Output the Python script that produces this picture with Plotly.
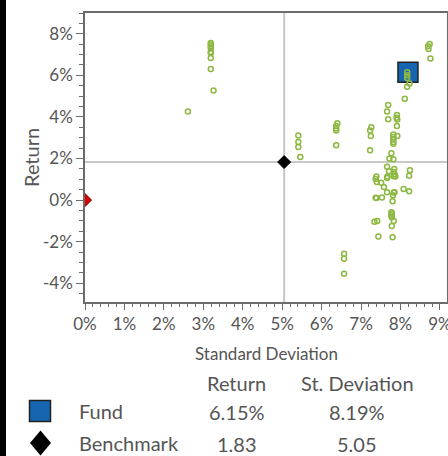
import plotly.graph_objects as go

W, H = 448, 456

# Peer universe points (std dev %, return %)
peer_sd = [3.19, 3.19, 3.19, 3.19, 3.19, 3.19, 3.19, 3.19,
           3.26, 2.61,
           5.41, 5.41, 5.41, 5.46,
           8.74, 8.70, 8.71, 8.76,
           8.17, 8.17, 8.17, 8.23, 8.17,
           8.11, 7.69, 7.66, 7.69,
           7.91, 7.90, 7.92, 7.91, 7.92,
           7.82, 7.82, 7.82, 7.82, 7.82,
           6.40, 6.37, 6.37, 6.37, 6.37,
           7.26, 7.23, 7.25, 7.23,
           7.77, 7.72, 7.82, 7.66,
           7.71, 7.84, 7.83, 7.85, 7.83, 7.87,
           8.24, 8.22,
           7.39, 7.37, 7.40,
           7.67, 7.66,
           7.51, 7.58,
           7.66, 7.83, 7.85,
           8.08, 8.22,
           7.81, 7.53, 7.37, 7.39,
           7.80,
           7.77, 7.78, 7.77, 7.78,
           7.83, 7.34, 7.41, 7.78,
           7.44, 7.80,
           6.57, 6.57, 6.57]
peer_ret = [7.56, 7.49, 7.40, 7.31, 7.12, 7.08, 6.84, 6.31,
            5.27, 4.26,
            3.11, 2.80, 2.56, 2.07,
            7.51, 7.40, 7.27, 6.81,
            6.15, 6.01, 5.87, 5.61, 5.45,
            4.87, 4.57, 4.26, 3.89,
            4.10, 3.96, 3.88, 3.57, 3.09,
            3.16, 3.03, 2.92, 2.80, 2.71,
            3.70, 3.57, 3.45, 3.35, 2.64,
            3.51, 3.35, 3.09, 2.40,
            2.25, 2.00, 1.96, 1.60,
            1.39, 1.50, 1.35, 1.24, 1.15, 1.14,
            1.44, 1.17,
            1.14, 1.02, 0.87,
            1.14, 1.07,
            0.83, 0.63,
            0.38, 0.37, 0.38,
            0.53, 0.43,
            0.23, 0.13, 0.11, 0.10,
            -0.06,
            -0.58, -0.66, -0.74, -0.82,
            -1.01, -1.04, -1.01, -1.25,
            -1.75, -1.78,
            -2.58, -2.82, -3.54]

fund_name = "Fund"
fund_ret = 6.15
fund_sd = 8.19
bench_name = "Benchmark"
bench_ret = 1.83
bench_sd = 5.05
rf_sd = 0.0
rf_ret = 0.0

x_ticks = [0, 1, 2, 3, 4, 5, 6, 7, 8, 9]
x_ticktext = [f"{v}%" for v in x_ticks]
y_ticks = [-4, -2, 0, 2, 4, 6, 8]
y_ticktext = [f"{v}%" for v in y_ticks]

FONT = "Lato"
TXT = "#555555"
AX = "#6b6b6b"

def px(x):
    return x / W

def py(y):
    return 1 - y / H

fig = go.Figure()

fig.add_trace(go.Scatter(x=[fund_sd], y=[fund_ret], mode="markers",
                         marker=dict(symbol="square", size=20, color="#1565B0",
                                     line=dict(color="#222222", width=1.5)),
                         showlegend=False, hoverinfo="skip"))
fig.add_trace(go.Scatter(x=[bench_sd], y=[bench_ret], mode="markers",
                         marker=dict(symbol="diamond", size=10, color="#000000",
                                     line=dict(color="#000000", width=1)),
                         showlegend=False, hoverinfo="skip"))
fig.add_trace(go.Scatter(x=[rf_sd], y=[rf_ret], mode="markers",
                         marker=dict(symbol="diamond", size=10, color="#E00000",
                                     line=dict(color="#550000", width=1)),
                         showlegend=False, hoverinfo="skip"))
fig.add_trace(go.Scatter(x=peer_sd, y=peer_ret, mode="markers",
                         marker=dict(symbol="circle-open", size=5, color="#8DB842",
                                     line=dict(width=1.5)),
                         showlegend=False, hoverinfo="skip"))

# crosshair at benchmark
fig.add_shape(type="line", xref="x", yref="paper", x0=bench_sd, x1=bench_sd,
              y0=py(302), y1=py(13), line=dict(color="#c8c8c8", width=2), layer="below")
fig.add_shape(type="line", xref="paper", yref="y", x0=px(85), x1=px(447),
              y0=bench_ret, y1=bench_ret, line=dict(color="#c8c8c8", width=2), layer="below")

# left black bar
fig.add_shape(type="rect", xref="paper", yref="paper", x0=0, x1=px(6), y0=0, y1=1,
              fillcolor="#000000", line=dict(width=0), layer="above")

# legend keys
fig.add_shape(type="rect", xref="paper", yref="paper", x0=px(29.5), x1=px(50.5),
              y0=py(421.5), y1=py(400.5), fillcolor="#1565B0",
              line=dict(color="#222222", width=1.5))
cx, cy = 40.5, 443
fig.add_shape(type="path", xref="paper", yref="paper",
              path=f"M {px(cx)} {py(cy-12.5)} L {px(cx+10.5)} {py(cy)} L {px(cx)} {py(cy+12.5)} L {px(cx-10.5)} {py(cy)} Z",
              fillcolor="#000000", line=dict(color="#000000", width=0))

ann = []
ann.append(dict(text="Return", x=px(31), y=py(158), textangle=-90,
                font=dict(size=20, color=TXT, family=FONT)))
ann.append(dict(text="Standard Deviation", x=px(266), y=py(353),
                font=dict(size=17, color=TXT, family=FONT)))
ann.append(dict(text="Return", x=px(237), y=py(383), font=dict(size=20, color=TXT, family=FONT)))
ann.append(dict(text="St. Deviation", x=px(357), y=py(383), font=dict(size=20, color=TXT, family=FONT)))
ann.append(dict(text=fund_name, x=px(77), y=py(411), xanchor="left",
                font=dict(size=20, color=TXT, family=FONT)))
ann.append(dict(text=f"{fund_ret:.2f}%", x=px(237), y=py(412), font=dict(size=20, color=TXT, family=FONT)))
ann.append(dict(text=f"{fund_sd:.2f}%", x=px(357), y=py(412), font=dict(size=20, color=TXT, family=FONT)))
ann.append(dict(text=bench_name, x=px(77), y=py(443), xanchor="left",
                font=dict(size=20, color=TXT, family=FONT)))
ann.append(dict(text=f"{bench_ret:.2f}", x=px(237), y=py(443.5), font=dict(size=20, color=TXT, family=FONT)))
ann.append(dict(text=f"{bench_sd:.2f}", x=px(357), y=py(443.5), font=dict(size=20, color=TXT, family=FONT)))
for a in ann:
    a.update(xref="paper", yref="paper", showarrow=False)
    a.setdefault("xanchor", "center")
    a.setdefault("yanchor", "middle")

fig.update_layout(
    width=W, height=H,
    margin=dict(l=0, r=0, t=0, b=0, pad=0, autoexpand=False),
    paper_bgcolor="white", plot_bgcolor="white",
    font=dict(family=FONT, color=TXT, size=16),
    annotations=ann,
    xaxis=dict(domain=[px(85), px(447)], range=[0, 9.18], showgrid=False, zeroline=False,
               automargin=False, ticklabeloverflow="allow",
               showline=True, mirror=True, linecolor=AX, linewidth=1.5,
               tickmode="array", tickvals=x_ticks, ticktext=x_ticktext,
               ticks="outside", ticklen=6, tickcolor=AX, tickwidth=1.2,
               tickfont=dict(size=17, color=TXT, family=FONT),
               minor=dict(dtick=0.2, ticks="outside", ticklen=3, tickcolor=AX, tickwidth=1)),
    yaxis=dict(domain=[py(302), py(13)], range=[-4.9, 9.0], showgrid=False, zeroline=False,
               automargin=False, ticklabeloverflow="allow",
               showline=True, mirror=True, linecolor=AX, linewidth=1.5,
               tickmode="array", tickvals=y_ticks, ticktext=y_ticktext,
               ticks="outside", ticklen=7, tickcolor=AX, tickwidth=1.2,
               tickfont=dict(size=17, color=TXT, family=FONT),
               minor=dict(dtick=0.5, ticks="outside", ticklen=4, tickcolor=AX, tickwidth=1)),
)

fig.write_html("out.html", config=dict(displayModeBar=False),
               post_script="document.body.style.margin='0';document.body.style.overflow='hidden';")
